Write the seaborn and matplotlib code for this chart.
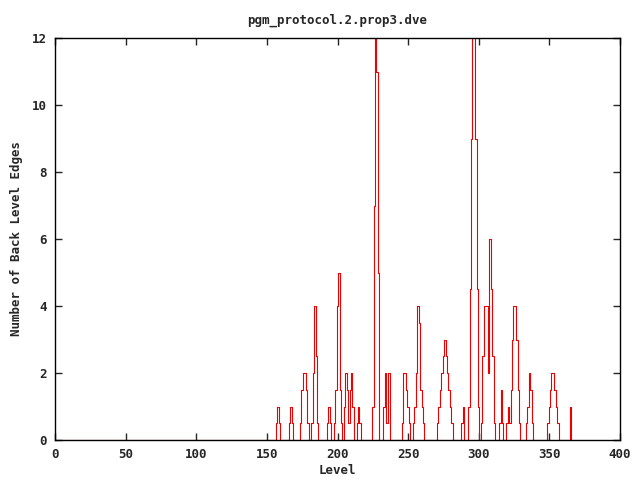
import numpy as np
import pandas as pd
from matplotlib import pyplot as plt
import seaborn as sns

# Back level edges per BFS level (levels not listed are 0)
max_level = 366
peak_levels = [
    157, 158, 159,
    166, 167, 168,
    174, 175, 176, 177, 178, 179,
    182, 183, 184, 185, 186,
    193, 194, 195,
    198, 199, 200, 201, 202, 203,
    205, 206, 207, 208, 209, 210, 211,
    214, 215, 216,
    225, 226, 227, 228, 229,
    233, 234, 235, 236, 237,
    246, 247, 248, 249, 250, 251,
    254, 255, 256, 257, 258, 259, 260, 261,
    271, 272, 273, 274, 275, 276, 277, 278, 279, 280, 281,
    288, 289,
    293, 294, 295, 296, 297, 298, 299, 300,
    302, 303, 304, 305, 306, 307, 308, 309, 310, 311,
    315, 316, 317,
    320, 321, 322,
    323, 324, 325, 326, 327, 328, 329,
    334, 335, 336, 337, 338,
    349, 350, 351, 352, 353, 354, 355, 356,
    365,
]
peak_values = [
    0.5, 1, 0.5,
    0.5, 1, 0.5,
    0.5, 1.5, 2, 2, 1.5, 0.5,
    0.5, 2, 4, 2.5, 0.5,
    0.5, 1, 0.5,
    0.5, 1.5, 4, 5, 1.5, 0.5,
    1, 2, 1.5, 0.5, 1.5, 2, 1,
    0.5, 1, 0.5,
    1, 7, 12, 11, 5,
    1, 2, 0.5, 2, 2,
    0.5, 2, 2, 1.5, 1, 0.5,
    0.5, 1, 2, 4, 3.5, 1.5, 1, 0.5,
    0.5, 1, 1.5, 2, 2.5, 3, 2.5, 2, 1.5, 1, 0.5,
    0.5, 1,
    1, 4.5, 9, 12, 12, 9, 4.5, 1,
    0.5, 2.5, 4, 4, 4, 2, 6, 4.5, 2.5, 0.5,
    0.5, 1.5, 0.5,
    0.5, 1, 0.5,
    1.5, 3, 4, 4, 3, 1.5, 0.5,
    0.5, 1, 2, 1.5, 0.5,
    0.5, 1, 1.5, 2, 2, 1.5, 1, 0.5,
    1,
]

levels = np.arange(0, max_level + 1)
edges = np.zeros(len(levels))
edges[peak_levels] = peak_values
df = pd.DataFrame({"level": levels, "edges": edges})

sns.set_style("ticks")
plt.rcParams["font.family"] = ["DejaVu Sans Mono"]
plt.rcParams["font.weight"] = "bold"

fig, ax = plt.subplots(figsize=(6.4, 4.8), dpi=100)
fig.subplots_adjust(left=55 / 640, right=620 / 640, top=1 - 38 / 480, bottom=1 - 440 / 480)

sns.lineplot(
    data=df, x="level", y="edges", drawstyle="steps-mid",
    color="#ee0000", linewidth=0.8, ax=ax,
)

ax.set_xlim(0, 400)
ax.set_ylim(0, 12)
ax.set_xticks(range(0, 401, 50))
ax.set_yticks(range(0, 13, 2))
ax.tick_params(direction="in", top=True, right=True, length=5, width=1,
               labelsize=9, pad=6)
for lab in ax.get_xticklabels() + ax.get_yticklabels():
    lab.set_fontweight("bold")
for side in ax.spines.values():
    side.set_linewidth(1)
    side.set_color("black")

ax.set_title("pgm_protocol.2.prop3.dve", fontsize=9, fontweight="bold", pad=10)
ax.set_xlabel("Level", fontsize=9, fontweight="bold", labelpad=2)
ax.set_ylabel("Number of Back Level Edges", fontsize=9, fontweight="bold", labelpad=6)

plt.savefig("out.png", dpi=100)
